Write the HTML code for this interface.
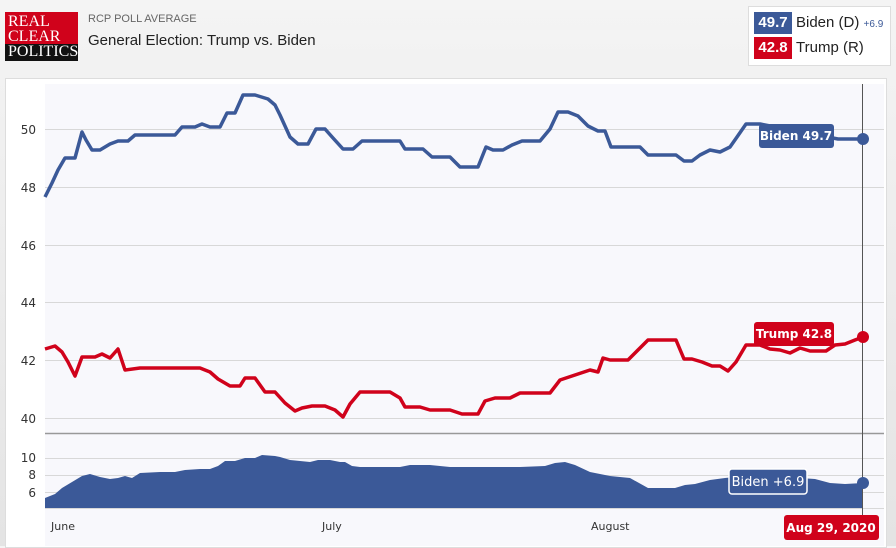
<!DOCTYPE html>
<html><head><style>
body{margin:0;width:896px;height:546px;overflow:hidden;background:linear-gradient(#f4f4f4,#e4e4e4);font-family:"Liberation Sans",sans-serif;position:relative}
.abs{position:absolute}
</style></head><body>
<div class="abs" style="left:5px;top:12px;width:73px;height:49px;background:#d0021b"></div>
<div class="abs" style="left:5px;top:44px;width:73px;height:17px;background:#111"></div>
<div class="abs" style="left:8px;top:14px;font-family:'Liberation Serif',serif;font-size:16px;line-height:15px;color:#fff">REAL<br>CLEAR<br>POLITICS</div>
<div class="abs" style="left:88px;top:13px;font-size:11px;color:#666">RCP POLL AVERAGE</div>
<div class="abs" style="left:88px;top:32px;font-size:15px;color:#222">General Election: Trump vs. Biden</div>
<div class="abs" style="left:748px;top:6px;width:141px;height:58px;background:#fff;border:1px solid #ddd"></div>
<div class="abs" style="left:754px;top:12px;width:38px;height:22px;background:#3b5998;color:#fff;font-weight:bold;font-size:15px;line-height:22px;text-align:center">49.7</div>
<div class="abs" style="left:796px;top:14px;font-size:15px;color:#222">Biden (D) <span style="font-size:10px;color:#3b5998">+6.9</span></div>
<div class="abs" style="left:754px;top:37px;width:38px;height:22px;background:#d0021b;color:#fff;font-weight:bold;font-size:15px;line-height:22px;text-align:center">42.8</div>
<div class="abs" style="left:796px;top:39px;font-size:15px;color:#222">Trump (R)</div>
<div class="abs" style="left:5px;top:78px;width:880px;height:468px;background:#fff;border:1px solid #ddd"></div>
<svg class="abs" style="left:0;top:0" width="896" height="546">
<rect x="45" y="84" width="839" height="462" fill="#f8f8fc"/>
<g stroke="#d8d8d8" stroke-width="1">
<line x1="45" x2="884" y1="129.5" y2="129.5"/><line x1="45" x2="884" y1="187.5" y2="187.5"/><line x1="45" x2="884" y1="245.5" y2="245.5"/><line x1="45" x2="884" y1="302.5" y2="302.5"/><line x1="45" x2="884" y1="360.5" y2="360.5"/><line x1="45" x2="884" y1="418.5" y2="418.5"/>
<line x1="45" x2="884" y1="458.5" y2="458.5"/><line x1="45" x2="884" y1="475.5" y2="475.5"/><line x1="45" x2="884" y1="492.5" y2="492.5"/><line x1="45" x2="884" y1="508.5" y2="508.5"/>
</g>
<line x1="45" x2="884" y1="433.5" y2="433.5" stroke="#999" stroke-width="1.5"/>
<g font-size="12" fill="#333" text-anchor="end" font-family="DejaVu Sans,sans-serif">
<text x="36" y="134">50</text><text x="36" y="192">48</text><text x="36" y="250">46</text><text x="36" y="307">44</text><text x="36" y="365">42</text><text x="36" y="423">40</text>
<text x="36" y="462">10</text><text x="36" y="479">8</text><text x="36" y="497">6</text>
</g>
<g font-size="11" fill="#333" font-family="DejaVu Sans,sans-serif">
<text x="51" y="530">June</text><text x="322" y="530">July</text><text x="591" y="530">August</text>
</g>
<polygon fill="#3b5998" points="45,498 55,494 62,488 72,482 82,476 90,474 100,477 110,479 118,478 125,476 132,478 140,473 160,472 175,472 185,470 200,469 210,469 218,466 225,461 235,461 245,458 255,458 262,455 275,456 280,457 290,460 300,461 310,462 318,460 330,460 340,462 345,462 352,466 360,467 400,467 410,465 430,465 450,467 480,467 520,467 545,466 555,463 565,462 575,465 590,472 610,476 630,478 648,488 675,488 685,485 695,484 710,480 725,478 735,477 755,478 800,478 815,479 830,483 845,484 863,483 863,508 45,508"/>
<polyline fill="none" stroke="#3b5998" stroke-width="3.5" stroke-linejoin="round" points="45,197 52,183 58,170 65,158 75,158 82,132 86,140 92,150 100,150 110,144 118,141 128,141 135,135 175,135 182,127 195,127 202,124 210,127 220,127 227,113 235,113 243,95 255,95 268,99 275,105 280,115 290,137 298,144 308,144 316,129 325,129 333,138 343,149 353,149 362,141 400,141 405,149 423,149 432,157 450,157 460,167 478,167 486,147 493,150 503,150 512,145 522,141 540,141 550,129 558,112 568,112 578,116 588,126 598,131 605,131 611,147 640,147 648,155 676,155 684,161 692,161 700,155 710,150 720,152 730,147 737,137 746,124 756,124 760,124 838,139 863,139"/>
<polyline fill="none" stroke="#d0021b" stroke-width="3.5" stroke-linejoin="round" points="45,349 55,346 62,352 68,362 75,376 82,357 95,357 102,354 110,358 118,349 125,370 140,368 200,368 210,372 218,379 230,386 240,386 245,378 255,378 265,392 275,392 285,403 295,411 302,408 312,406 325,406 335,410 343,417 350,404 360,392 390,392 400,398 405,407 420,407 430,410 450,410 462,414 478,414 485,401 495,398 510,398 520,393 550,393 560,380 575,375 590,370 598,372 603,358 610,360 628,360 636,352 648,340 676,340 684,359 692,359 702,362 712,366 720,366 728,371 736,362 746,345 760,345 770,349 780,350 790,353 800,348 810,351 826,351 835,345 845,344 855,340 863,337"/>
<line x1="862.5" x2="862.5" y1="84" y2="516" stroke="#555" stroke-width="1"/>
<circle cx="863" cy="139" r="6" fill="#3b5998"/>
<circle cx="863" cy="337" r="6" fill="#d0021b"/>
<circle cx="863" cy="483" r="6" fill="#3b5998"/>
<rect x="759" y="124" width="75" height="24" rx="3" fill="#3b5998"/>
<text x="796" y="140" font-size="12" font-weight="bold" fill="#fff" text-anchor="middle" font-family="DejaVu Sans,sans-serif">Biden 49.7</text>
<rect x="754" y="322" width="80" height="24" rx="3" fill="#d0021b"/>
<text x="794" y="338" font-size="12" font-weight="bold" fill="#fff" text-anchor="middle" font-family="DejaVu Sans,sans-serif">Trump 42.8</text>
<rect x="729" y="469" width="78" height="25" rx="3" fill="#3b5998" stroke="#fff" stroke-width="1.5"/>
<text x="768" y="486" font-size="13" fill="#fff" text-anchor="middle" font-family="DejaVu Sans,sans-serif">Biden +6.9</text>
<rect x="784" y="515" width="95" height="25" rx="3" fill="#d0021b"/>
<text x="831" y="532" font-size="12" font-weight="bold" fill="#fff" text-anchor="middle" font-family="DejaVu Sans,sans-serif">Aug 29, 2020</text>
</svg>
</body></html>
